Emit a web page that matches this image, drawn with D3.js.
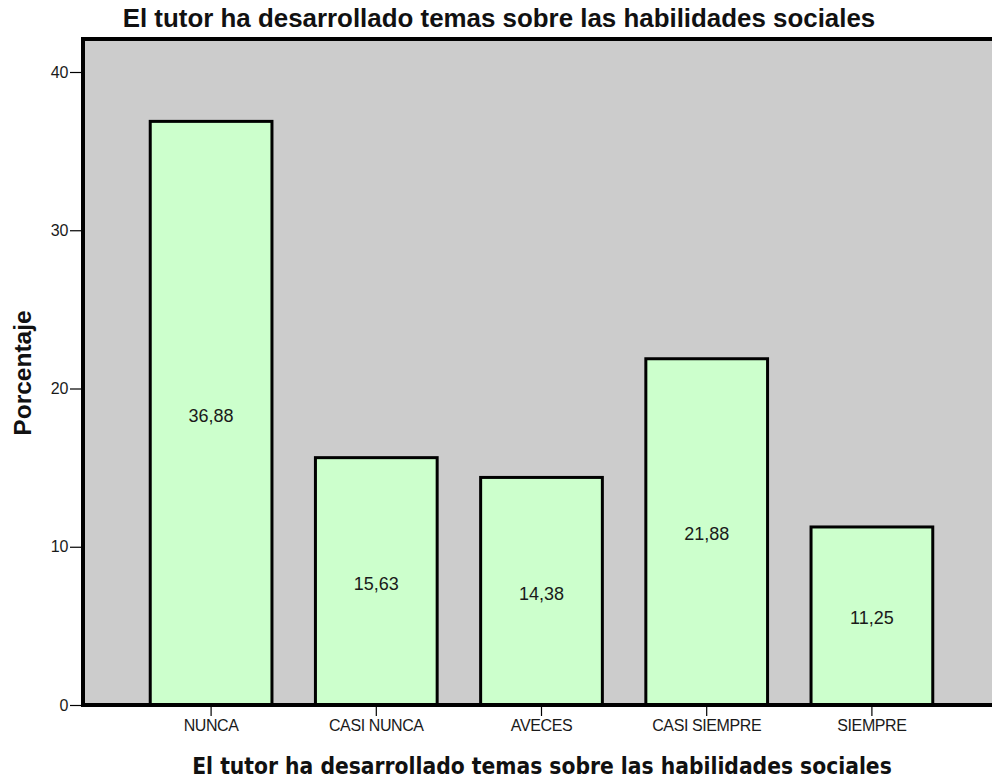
<!DOCTYPE html>
<html>
<head>
<meta charset="utf-8">
<script src="https://cdn.jsdelivr.net/npm/d3@7"></script>
<style>
  body { margin: 0; background: #fff; }
  svg { display: block; }
</style>
</head>
<body>
<div id="chart"></div>
<script>
var categories = ["NUNCA", "CASI NUNCA", "AVECES", "CASI SIEMPRE", "SIEMPRE"];
var values = [36.88, 15.63, 14.38, 21.88, 11.25];
var labels = ["36,88", "15,63", "14,38", "21,88", "11,25"];
var yTicks = [0, 10, 20, 30, 40];
var title = "El tutor ha desarrollado temas sobre las habilidades sociales";

var w = 992,
  h = 780;
var plot = { left: 83, top: 39, right: 1001, bottom: 705 };

var svg = d3
  .select("#chart")
  .append("svg")
  .attr("width", w)
  .attr("height", h);

var x = d3
  .scaleBand()
  .domain(categories)
  .range([128.5, 954.5])
  .paddingInner(0.245)
  .paddingOuter(0.1225);

var y = d3.scaleLinear().domain([0, 40]).range([plot.bottom, 72]);

// plot background
svg
  .append("rect")
  .attr("x", plot.left)
  .attr("y", plot.top)
  .attr("width", plot.right - plot.left)
  .attr("height", plot.bottom - plot.top)
  .attr("fill", "#cccccc");

// bars
svg
  .selectAll(".bar")
  .data(values)
  .enter()
  .append("rect")
  .attr("class", "bar")
  .attr("x", (d, i) => x(categories[i]) + 1.5)
  .attr("y", (d) => y(d))
  .attr("width", x.bandwidth() - 3)
  .attr("height", (d) => y(0) - y(d))
  .attr("fill", "#ccffcc")
  .attr("stroke", "#000")
  .attr("stroke-width", 3);

// value labels
svg
  .selectAll(".val")
  .data(values)
  .enter()
  .append("text")
  .attr("class", "val")
  .attr("x", (d, i) => x(categories[i]) + x.bandwidth() / 2)
  .attr("y", (d) => (y(d) + y(0)) / 2 + 8.5)
  .attr("text-anchor", "middle")
  .attr("font-family", "Liberation Sans, Arial, sans-serif")
  .attr("font-size", 18)
  .attr("fill", "#1a1a1a")
  .text((d, i) => labels[i]);

// frame (top, left, bottom)
svg
  .append("path")
  .attr(
    "d",
    `M${plot.right},${plot.top}H${plot.left}V${plot.bottom}H${plot.right}`
  )
  .attr("fill", "none")
  .attr("stroke", "#000")
  .attr("stroke-width", 4);

// y axis
var yAxis = svg
  .append("g")
  .attr("transform", `translate(${plot.left - 2},0)`)
  .call(d3.axisLeft(y).tickValues(yTicks).tickSize(11).tickPadding(2));
yAxis.select(".domain").remove();
yAxis.selectAll("line").attr("stroke", "#000").attr("stroke-width", 1.2);
yAxis
  .selectAll("text")
  .attr("font-family", "Liberation Sans, Arial, sans-serif")
  .attr("font-size", 16)
  .attr("letter-spacing", "-0.3px")
  .attr("fill", "#1a1a1a");

// x axis
var xAxis = svg
  .append("g")
  .attr("transform", `translate(0,${plot.bottom + 2})`)
  .call(d3.axisBottom(x).tickSize(9).tickPadding(4));
xAxis.select(".domain").remove();
xAxis.selectAll("line").attr("stroke", "#000").attr("stroke-width", 1.2);
xAxis
  .selectAll("text")
  .attr("font-family", "Liberation Sans, Arial, sans-serif")
  .attr("font-size", 16)
  .attr("letter-spacing", "-0.4px")
  .attr("fill", "#1a1a1a");

// titles
svg
  .append("text")
  .attr("x", 499)
  .attr("y", 27)
  .attr("text-anchor", "middle")
  .attr("font-family", "Liberation Sans, Arial, sans-serif")
  .attr("font-weight", "bold")
  .attr("font-size", 25.9)
  .attr("fill", "#111")
  .text(title);

svg
  .append("text")
  .attr("x", 542)
  .attr("y", 774)
  .attr("text-anchor", "middle")
  .attr("font-family", "DejaVu Sans Condensed, DejaVu Sans, sans-serif")
  .attr("font-weight", "bold")
  .attr("font-size", 22.6)
  .attr("fill", "#111")
  .text(title);

svg
  .append("text")
  .attr("transform", "translate(31,373)rotate(-90)")
  .attr("text-anchor", "middle")
  .attr("font-family", "Liberation Sans, Arial, sans-serif")
  .attr("font-weight", "bold")
  .attr("font-size", 24.5)
  .attr("fill", "#111")
  .text("Porcentaje");
</script>
</body>
</html>
